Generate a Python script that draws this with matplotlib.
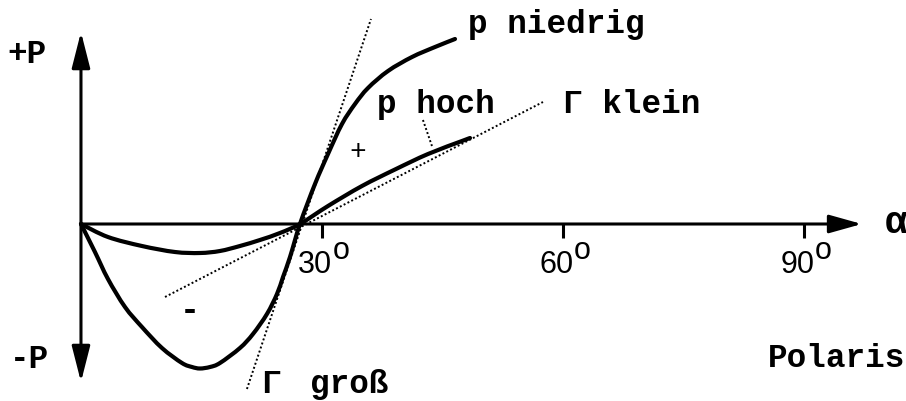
import numpy as np
import matplotlib
matplotlib.use("Agg")
import matplotlib.pyplot as plt
from matplotlib.patches import FancyArrowPatch, PathPatch
from matplotlib.path import Path

# ---- data (alpha in degrees, P in arbitrary units) ----
alpha_niedrig = [0.00, 1.74, 3.36, 5.48, 7.59, 10.08, 12.57, 13.82, 14.81, 16.06,
                 17.30, 19.79, 21.41, 23.15, 24.40, 25.15, 26.02, 27.26, 29.13,
                 30.75, 32.49, 34.11, 35.73, 38.22, 41.21, 44.07, 46.56]
p_niedrig = [0.00, -0.28, -0.55, -0.83, -1.03, -1.24, -1.39, -1.43, -1.445, -1.43,
             -1.39, -1.24, -1.10, -0.90, -0.70, -0.53, -0.33, 0.00, 0.40,
             0.70, 1.00, 1.20, 1.36, 1.53, 1.67, 1.77, 1.85]

alpha_hoch = [0.00, 3.36, 7.59, 11.70, 14.81, 17.30, 19.79, 22.28, 24.77, 27.26,
              30.75, 34.98, 39.09, 43.20, 47.43, 48.43]
p_hoch = [0.00, -0.13, -0.22, -0.28, -0.29, -0.27, -0.22, -0.16, -0.09, 0.00,
          0.18, 0.38, 0.545, 0.70, 0.83, 0.86]

# tangent lines (Gamma gross / Gamma klein) and leader line
tan_gross_alpha = [20.66, 36.10]
tan_gross_p = [-1.65, 2.05]
tan_klein_alpha = [10.46, 57.51]
tan_klein_p = [-0.73, 1.22]
leader_alpha = [42.57, 43.69]
leader_p = [1.04, 0.78]

tick_values = [30, 60, 90]
tick_labels = ["30", "60", "90"]

# ---- figure ----
fig = plt.figure(figsize=(9.06, 4.02), dpi=100)
ax = fig.add_axes([0, 0, 1, 1])
ax.set_xlim(-10.08, 102.70)
ax.set_ylim(-1.77, 2.25)
ax.axis("off")

mono = "Liberation Mono"
fs = 23.5


def smooth_curve(xs, ys, **kw):
    """Draw a smooth (Catmull-Rom) curve through the given data points."""
    P = np.column_stack([xs, ys]).astype(float)
    n = len(P)
    verts = [P[0]]
    codes = [Path.MOVETO]
    for i in range(n - 1):
        p0 = P[i - 1] if i > 0 else P[i]
        p1 = P[i]
        p2 = P[i + 1]
        p3 = P[i + 2] if i + 2 < n else P[i + 1]
        verts += [p1 + (p2 - p0) / 6.0, p2 - (p3 - p1) / 6.0, p2]
        codes += [Path.CURVE4] * 3
    ax.add_patch(PathPatch(Path(verts, codes), fill=False, **kw))


# axes with arrows
ax.add_patch(FancyArrowPatch((0, -1.58), (0, 1.92),
                             arrowstyle="<|-|>,head_length=1.1,head_width=0.28",
                             mutation_scale=20, lw=2.2, color="black",
                             shrinkA=0, shrinkB=0))
ax.add_patch(FancyArrowPatch((0, 0), (97.2, 0),
                             arrowstyle="-|>,head_length=1.0,head_width=0.28",
                             mutation_scale=20, lw=2.2, color="black",
                             shrinkA=0, shrinkB=0))

for tv, tl in zip(tick_values, tick_labels):
    ax.plot([tv, tv], [0, -0.14], color="black", lw=2.2, solid_capstyle="butt")
    ax.text(tv + 1.3, -0.25, tl, ha="right", va="top",
            fontsize=22, family="Liberation Sans", color="black")
    ax.text(tv + 1.4, -0.11, "o", ha="left", va="top",
            fontsize=22, family="Liberation Sans", color="black")

# curves
smooth_curve(alpha_niedrig, p_niedrig, color="black", lw=3.0,
             capstyle="round", joinstyle="round")
smooth_curve(alpha_hoch, p_hoch, color="black", lw=3.0,
             capstyle="round", joinstyle="round")

# tangents (dotted)
dot = (0, (1.0, 1.2))
ax.plot(tan_gross_alpha, tan_gross_p, color="black", lw=1.4, linestyle=dot)
ax.plot(tan_klein_alpha, tan_klein_p, color="black", lw=1.4, linestyle=dot)
ax.plot(leader_alpha, leader_p, color="black", lw=1.4, linestyle=dot)


# texts
def tx(x, y, s, **kw):
    kw.setdefault("family", mono)
    kw.setdefault("fontsize", fs)
    kw.setdefault("weight", "bold")
    ax.text(x, y, s, color="black", **kw)


tx(-9.2, 1.62, "+P", ha="left", va="baseline")
tx(-8.8, -1.43, "-P", ha="left", va="baseline")
tx(48.2, 1.92, "p niedrig", ha="left", va="baseline")
tx(36.9, 1.12, "p hoch", ha="left", va="baseline")
tx(60.0, 1.12, "\u0393 klein", ha="left", va="baseline")
tx(22.4, -1.68, "\u0393", ha="left", va="baseline")
tx(28.5, -1.68, "gro\u00df", ha="left", va="baseline")
tx(85.5, -1.42, "Polaris", ha="left", va="baseline")
tx(100.1, 0.02, "\u03b1", ha="left", va="center", fontsize=27)
tx(34.5, 0.73, "+", ha="center", va="center", fontsize=20, weight="normal")
tx(13.6, -0.87, "-", ha="center", va="center", fontsize=24)

fig.savefig("out.png", dpi=100, facecolor="white")
